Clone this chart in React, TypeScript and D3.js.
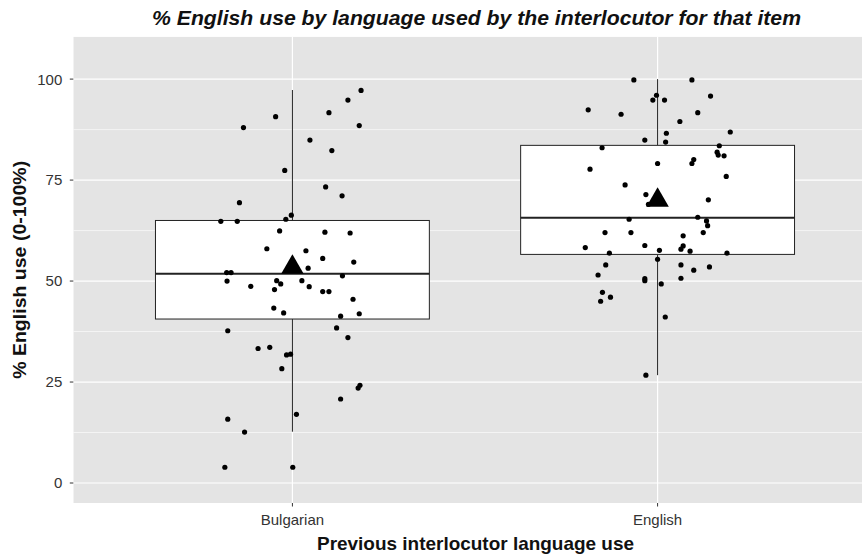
import React from "react";
import * as d3 from "d3";

const categories = ["Bulgarian", "English"];

// jitter offsets (in category units) and values (% English use)
const bulgarianJitter = [0.188, 0.152, 0.1, -0.046, -0.134, 0.183, 0.048, 0.108, -0.021, 0.091, 0.136, -0.145, -0.003, -0.018, -0.196, -0.151, -0.035, 0.089, 0.158, -0.07, 0.037, 0.083, 0.168, 0.043, -0.18, -0.168, -0.179, -0.114, -0.043, -0.032, -0.049, 0.026, 0.046, 0.083, 0.1, 0.137, 0.166, -0.051, -0.024, 0.132, 0.183, -0.177, 0.121, 0.152, -0.094, -0.062, -0.016, -0.005, -0.029, 0.185, 0.18, 0.132, 0.011, -0.177, -0.131, -0.185, 0.001];
const bulgarianValues = [97.2, 94.8, 91.7, 90.7, 88.0, 88.5, 84.9, 82.3, 77.4, 73.3, 71.1, 69.4, 66.3, 65.3, 64.8, 64.8, 62.4, 62.1, 61.9, 58.0, 57.5, 55.6, 54.7, 53.2, 52.1, 52.1, 50.0, 48.7, 50.1, 49.3, 47.9, 50.1, 48.6, 47.4, 47.4, 51.3, 45.5, 43.3, 42.1, 41.3, 41.9, 37.7, 38.4, 36.0, 33.3, 33.6, 31.7, 31.9, 28.3, 24.2, 23.5, 20.8, 17.0, 15.8, 12.6, 3.9, 3.9];

const englishJitter = [-0.065, 0.094, -0.003, -0.013, 0.019, 0.145, -0.19, -0.1, 0.11, 0.061, 0.024, 0.199, -0.035, 0.022, -0.152, 0.169, 0.163, 0.166, 0.182, 0.099, 0.094, 0, -0.185, 0.188, -0.089, -0.032, -0.025, 0.139, 0.11, 0.134, 0.137, -0.078, -0.144, -0.073, 0.125, 0.07, -0.198, -0.035, 0.07, 0.064, -0.132, 0.005, 0.089, 0.19, 0, -0.142, -0.163, 0.064, 0.099, 0.142, -0.035, -0.035, 0.064, 0.01, -0.151, -0.129, -0.156, 0.021, -0.032];
const englishValues = [99.8, 99.8, 96.0, 94.8, 94.8, 95.8, 92.4, 91.3, 91.7, 89.5, 86.6, 86.9, 84.9, 84.4, 83.0, 83.5, 81.9, 81.2, 81.0, 80.1, 79.1, 79.1, 77.7, 75.9, 73.8, 71.4, 69.0, 70.1, 65.8, 64.9, 63.7, 65.3, 62.0, 62.0, 62.0, 61.2, 58.3, 58.8, 58.7, 57.9, 56.9, 57.6, 57.4, 56.9, 55.4, 54.0, 51.5, 54.0, 52.7, 53.5, 50.6, 50.1, 50.7, 49.3, 47.2, 46.0, 45.0, 41.1, 26.7];

// box statistics per category
const whiskerLow = [12.7, 26.7];
const q1 = [40.6, 56.6];
const median = [51.8, 65.7];
const q3 = [65.0, 83.6];
const whiskerHigh = [97.3, 100];
const means = [53.4, 70.0];

const yTicks = [0, 25, 50, 75, 100];
const yMinorTicks = [12.5, 37.5, 62.5, 87.5];

const title = "% English use by language used by the interlocutor for that item";
const xTitle = "Previous interlocutor language use";
const yTitle = "% English use (0-100%)";

const W = 862;
const H = 555;
const panel = { left: 73.3, right: 876.7, top: 36.7, bottom: 503 };
const FONT = "'Liberation Sans', Arial, Helvetica, sans-serif";

export default function App() {
  const x = d3.scalePoint<string>().domain(categories).range([panel.left, panel.right]).padding(0.6);
  const step = x.step();
  const y = d3.scaleLinear().domain([-4.95, 110.5]).range([panel.bottom, panel.top]);
  const boxW = 0.75 * step;

  const points = [
    ...bulgarianValues.map((v, i) => ({ c: categories[0], j: bulgarianJitter[i], v })),
    ...englishValues.map((v, i) => ({ c: categories[1], j: englishJitter[i], v })),
  ];

  const tri = d3.symbol().type(d3.symbolTriangle).size(120)();

  return (
    <svg width={W} height={H} style={{ position: "absolute", left: 0, top: 0, background: "#fff" }} fontFamily={FONT}>
      <defs>
        <clipPath id="pclip">
          <rect x={panel.left} y={panel.top} width={panel.right - panel.left} height={panel.bottom - panel.top} />
        </clipPath>
      </defs>
      <g clipPath="url(#pclip)">
        <rect x={panel.left} y={panel.top} width={panel.right - panel.left} height={panel.bottom - panel.top} fill="#E4E4E4" />
        {yMinorTicks.map((t) => (
          <line key={"m" + t} x1={panel.left} x2={panel.right} y1={y(t)} y2={y(t)} stroke="#fff" strokeWidth={0.6} />
        ))}
        {yTicks.map((t) => (
          <line key={"g" + t} x1={panel.left} x2={panel.right} y1={y(t)} y2={y(t)} stroke="#fff" strokeWidth={1.2} />
        ))}
        {categories.map((c) => (
          <line key={"v" + c} x1={x(c)} x2={x(c)} y1={panel.top} y2={panel.bottom} stroke="#fff" strokeWidth={1.2} />
        ))}
        {categories.map((c, i) => {
          const cx = x(c) as number;
          return (
            <g key={"box" + c}>
              <line x1={cx} x2={cx} y1={y(q3[i])} y2={y(whiskerHigh[i])} stroke="#222" strokeWidth={1} />
              <line x1={cx} x2={cx} y1={y(q1[i])} y2={y(whiskerLow[i])} stroke="#222" strokeWidth={1} />
              <rect x={cx - boxW / 2} y={y(q3[i])} width={boxW} height={y(q1[i]) - y(q3[i])} fill="#fff" stroke="#222" strokeWidth={1} />
              <line x1={cx - boxW / 2} x2={cx + boxW / 2} y1={y(median[i])} y2={y(median[i])} stroke="#222" strokeWidth={2} />
            </g>
          );
        })}
        {points.map((p, i) => (
          <circle key={"p" + i} cx={(x(p.c) as number) + p.j * step} cy={y(p.v)} r={2.6} fill="#000" />
        ))}
        {categories.map((c, i) => (
          <path key={"mean" + c} d={tri || ""} transform={`translate(${x(c)},${y(means[i])}) scale(1.35)`} fill="#000" />
        ))}
      </g>
      {/* y axis */}
      {yTicks.map((t) => (
        <g key={"yt" + t}>
          <line x1={panel.left - 3.5} x2={panel.left} y1={y(t)} y2={y(t)} stroke="#333" strokeWidth={1} />
          <text x={panel.left - 11} y={y(t)} dy="0.36em" textAnchor="end" fontSize={15} fill="#333">
            {t}
          </text>
        </g>
      ))}
      {/* x axis */}
      {categories.map((c) => (
        <g key={"xt" + c}>
          <line x1={x(c)} x2={x(c)} y1={panel.bottom} y2={panel.bottom + 3.5} stroke="#333" strokeWidth={1} />
          <text x={x(c)} y={panel.bottom + 22} textAnchor="middle" fontSize={15} fill="#333">
            {c}
          </text>
        </g>
      ))}
      <text x={475.5} y={550} textAnchor="middle" fontSize={19} fontWeight="bold" fill="#111" textLength={317} lengthAdjust="spacingAndGlyphs">
        {xTitle}
      </text>
      <text transform={`translate(26,${(panel.top + panel.bottom) / 2}) rotate(-90)`} textAnchor="middle" fontSize={19} fontWeight="bold" fill="#111" textLength={218} lengthAdjust="spacingAndGlyphs">
        {yTitle}
      </text>
      <text x={476.5} y={25} textAnchor="middle" fontSize={20} fontWeight="bold" fontStyle="italic" fill="#111" textLength={649} lengthAdjust="spacingAndGlyphs">
        {title}
      </text>
    </svg>
  );
}
